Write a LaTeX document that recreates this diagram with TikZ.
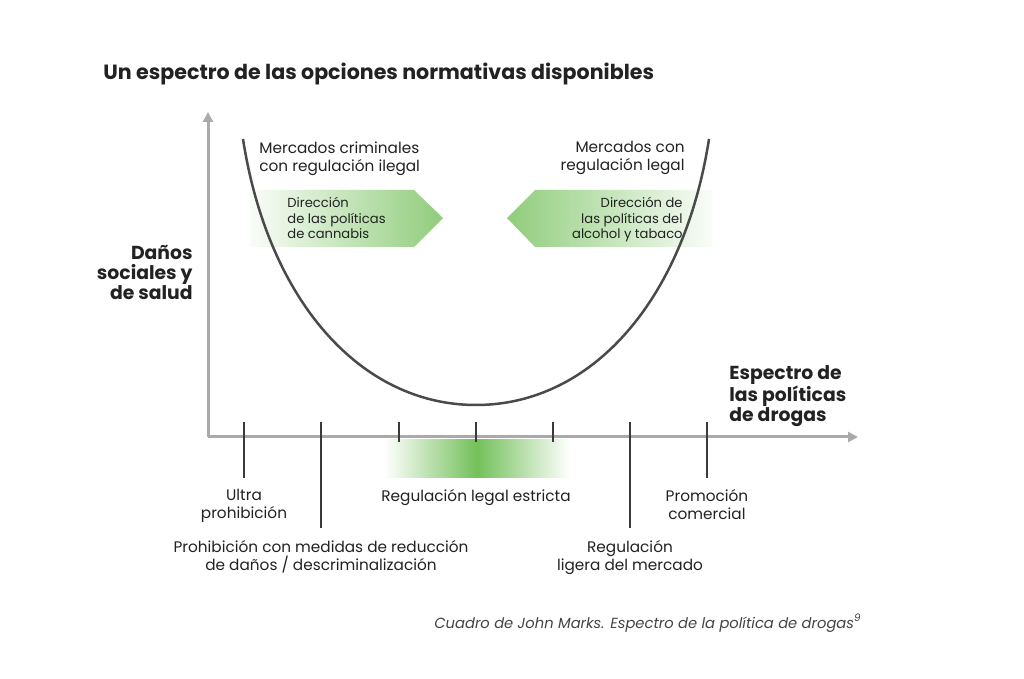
\documentclass[tikz,border=0pt]{standalone}
\usepackage{fontspec}
\setmainfont{Poppins}
\usetikzlibrary{arrows.meta}
\usepackage{xcolor}
\definecolor{InkDark}{HTML}{222222}
\definecolor{AxisGray}{HTML}{AAAAAA}
\definecolor{CurveGray}{HTML}{4A4A4A}
\definecolor{TickGray}{HTML}{3A3A3A}
\definecolor{LeafGreen}{HTML}{74C05A}
\definecolor{NoteGray}{HTML}{444444}
\tikzset{
  axisline/.style={AxisGray,line width=1.5pt,-{Triangle[length=5pt,width=5pt]}},
  tickmark/.style={TickGray,line width=1pt},
  lbl/.style={font=\fontsize{7.65}{9}\selectfont,text=InkDark,inner sep=0pt},
  smalllbl/.style={font=\fontsize{6.55}{7.75}\selectfont,text=InkDark,inner sep=0pt},
  boldlbl/.style={font=\fontsize{9.4}{10}\selectfont\bfseries,text=InkDark,inner sep=0pt}
}

\begin{document}
\begin{tikzpicture}[x=0.5pt,y=-0.5pt]
\useasboundingbox[fill=white] (0,0) rectangle (1024,679);
\node[boldlbl,anchor=base west,font=\fontsize{10.3}{11}\selectfont\bfseries] (title) at (103,80) {Un espectro de las opciones normativas disponibles};
% axes
\coordinate (orig) at (208,437);
\coordinate (xend) at (858,437);
\coordinate (yend) at (208,112);
\draw[axisline] (orig) -- (yend);
\draw[axisline] (orig) -- (xend);
% green band under the axis
\shade[left color=white,right color=white,middle color=LeafGreen] (384,440) rectangle (570,478);
\foreach \x/\y in {244/478,321/528,399/442,476/442,553/442,630/528,707/478}
  \draw[tickmark] (\x,422) -- (\x,\y);
% direction arrows
\shade[left color=LeafGreen!4,right color=LeafGreen!80] (250,190) -- (414,190) -- (443,218) -- (414,247) -- (250,247) -- cycle;
\shade[left color=LeafGreen!80,right color=LeafGreen!4] (507,218) -- (535,190) -- (712,190) -- (712,247) -- (535,247) -- cycle;
% harm curve
\draw[CurveGray,line width=1.25pt] (243,139) .. controls (268,300) and (360,405) .. (476,405) .. controls (592,405) and (684,300) .. (709,139);
% labels
\node[lbl,anchor=north west,align=left] (crim) at (259,141) {Mercados criminales\\con regulación ilegal};
\node[lbl,anchor=north east,align=right] (legal) at (685,141) {Mercados con\\regulación legal};
\node[smalllbl,anchor=north west,align=left] (cannabis) at (287,197) {Dirección\\de las políticas\\de cannabis};
\node[smalllbl,anchor=north east,align=right] (alcohol) at (683,197) {Dirección de\\las políticas del\\alcohol y tabaco};
\node[boldlbl,anchor=north east,align=right] (harm) at (193,245) {Daños\\sociales y\\de salud};
\node[boldlbl,anchor=north west,align=left] (spec) at (729,365) {Espectro de\\las políticas\\de drogas};
\node[lbl,anchor=north,align=center] (ultra) at (244,489) {Ultra\\prohibición};
\node[lbl,anchor=north,align=center] (strict) at (476,489) {Regulación legal estricta};
\node[lbl,anchor=north,align=center] (promo) at (707,489) {Promoción\\comercial};
\node[lbl,anchor=north,align=center] (harmred) at (321,540) {Prohibición con medidas de reducción\\de daños / descriminalización};
\node[lbl,anchor=north,align=center] (light) at (630,540) {Regulación\\ligera del mercado};
\node[lbl,anchor=base east,text=NoteGray,font=\fontsize{7.35}{9}\selectfont\itshape] (note) at (862,628) {Cuadro de John Marks. Espectro de la política de drogas\textsuperscript{9}};
\end{tikzpicture}
\end{document}
